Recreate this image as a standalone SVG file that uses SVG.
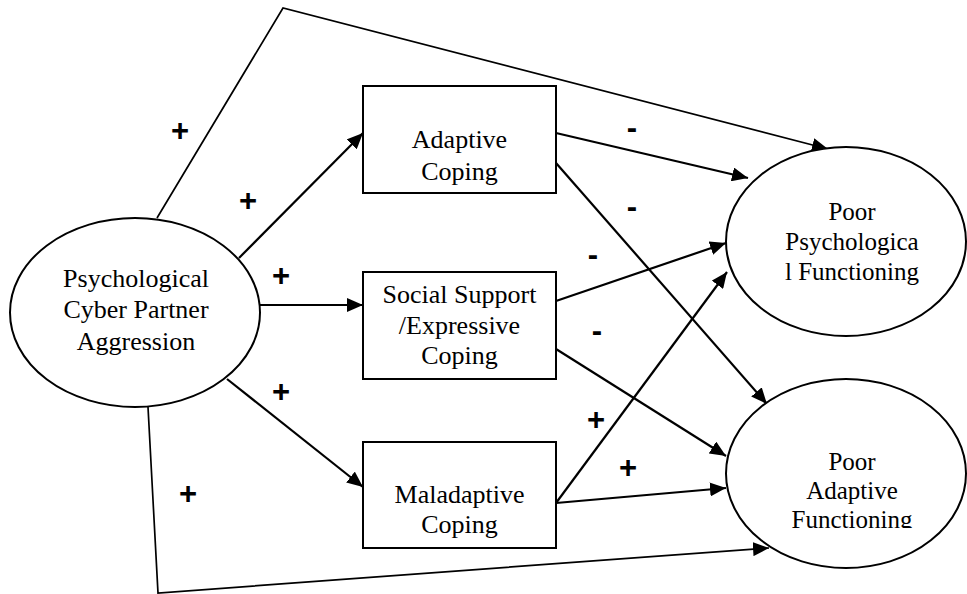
<svg xmlns="http://www.w3.org/2000/svg" width="967" height="594" viewBox="0 0 967 594">
<style>
.shape{fill:#fff;stroke:#000;stroke-width:2}
.t{font-size:26px;fill:#000;text-anchor:middle}
.tr{font-size:25px}
.c{fill:none;stroke:#000;stroke-width:2.2}
.c2{fill:none;stroke:#000;stroke-width:1.7}
.s{font-family:'Liberation Sans',Arial,sans-serif;font-weight:bold;font-size:31px;fill:#000;text-anchor:middle}
</style>
<defs>
<marker id="ah" viewBox="0 0 16 14" refX="16" refY="7" markerWidth="16" markerHeight="14" markerUnits="userSpaceOnUse" orient="auto">
<path d="M0,0 L16,7 L0,14 Z" fill="#000"/>
</marker>
<clipPath id="clipPAF"><rect x="700" y="370" width="267" height="158"/></clipPath>
</defs>
<rect width="967" height="594" fill="#fff"/>
<g id="connectors">
<polyline class="c2" points="157,218 283,8 828,149" marker-end="url(#ah)"/>
<polyline class="c2" points="148,407 158,593 769,548" marker-end="url(#ah)"/>
<line class="c" x1="239" y1="258" x2="363" y2="133" marker-end="url(#ah)"/>
<line class="c" x1="260" y1="305" x2="363" y2="305" marker-end="url(#ah)"/>
<line class="c" x1="227" y1="379" x2="363" y2="487" marker-end="url(#ah)"/>
<line class="c" x1="556" y1="133" x2="748" y2="178" marker-end="url(#ah)"/>
<line class="c" x1="556" y1="163" x2="767" y2="404" marker-end="url(#ah)"/>
<line class="c" x1="556" y1="301" x2="726" y2="243" marker-end="url(#ah)"/>
<line class="c" x1="556" y1="349" x2="726" y2="456" marker-end="url(#ah)"/>
<line class="c" x1="556" y1="503" x2="727" y2="272" marker-end="url(#ah)"/>
<line class="c" x1="556" y1="503" x2="726" y2="488" marker-end="url(#ah)"/>
</g>
<g id="labels">
<text class="s" x="180" y="141">+</text>
<text class="s" x="248" y="211">+</text>
<text class="s" x="281" y="286">+</text>
<text class="s" x="281" y="402">+</text>
<text class="s" x="188" y="504">+</text>
<text class="s" x="632" y="138">-</text>
<text class="s" x="632" y="217">-</text>
<text class="s" x="593" y="265">-</text>
<text class="s" x="597" y="341">-</text>
<text class="s" x="596" y="430">+</text>
<text class="s" x="628" y="478">+</text>
</g>
<g font-family="Liberation Serif, Times New Roman, DejaVu Serif, serif">
<g id="cyber-aggression">
<ellipse class="shape" cx="135" cy="312.5" rx="125" ry="94.5"/>
<text class="t" x="136" y="287">Psychological</text>
<text class="t" x="136" y="318">Cyber Partner</text>
<text class="t" x="136" y="350">Aggression</text>
</g>
<g id="adaptive-coping">
<rect class="shape" x="363" y="86" width="193" height="107"/>
<text class="t" x="459.5" y="148">Adaptive</text>
<text class="t" x="459.5" y="180">Coping</text>
</g>
<g id="social-support">
<rect class="shape" x="363" y="272" width="193" height="107"/>
<text class="t" x="459.5" y="303">Social Support</text>
<text class="t" x="459.5" y="334">/Expressive</text>
<text class="t" x="459.5" y="364">Coping</text>
</g>
<g id="maladaptive-coping">
<rect class="shape" x="363" y="442" width="193" height="106"/>
<text class="t" x="459.5" y="503">Maladaptive</text>
<text class="t" x="459.5" y="533">Coping</text>
</g>
<g id="poor-psych">
<ellipse class="shape" cx="846" cy="241.5" rx="120" ry="94.5"/>
<text class="t tr" x="852" y="220">Poor</text>
<text class="t tr" x="852" y="250">Psychologica</text>
<text class="t tr" x="852" y="280">l Functioning</text>
</g>
<g id="poor-adaptive">
<ellipse class="shape" cx="846" cy="473.5" rx="120" ry="94.5"/>
<g clip-path="url(#clipPAF)">
<text class="t tr" x="852" y="470">Poor</text>
<text class="t tr" x="852" y="499">Adaptive</text>
<text class="t tr" x="852" y="528">Functioning</text>
</g>
</g>
</g>
</svg>
